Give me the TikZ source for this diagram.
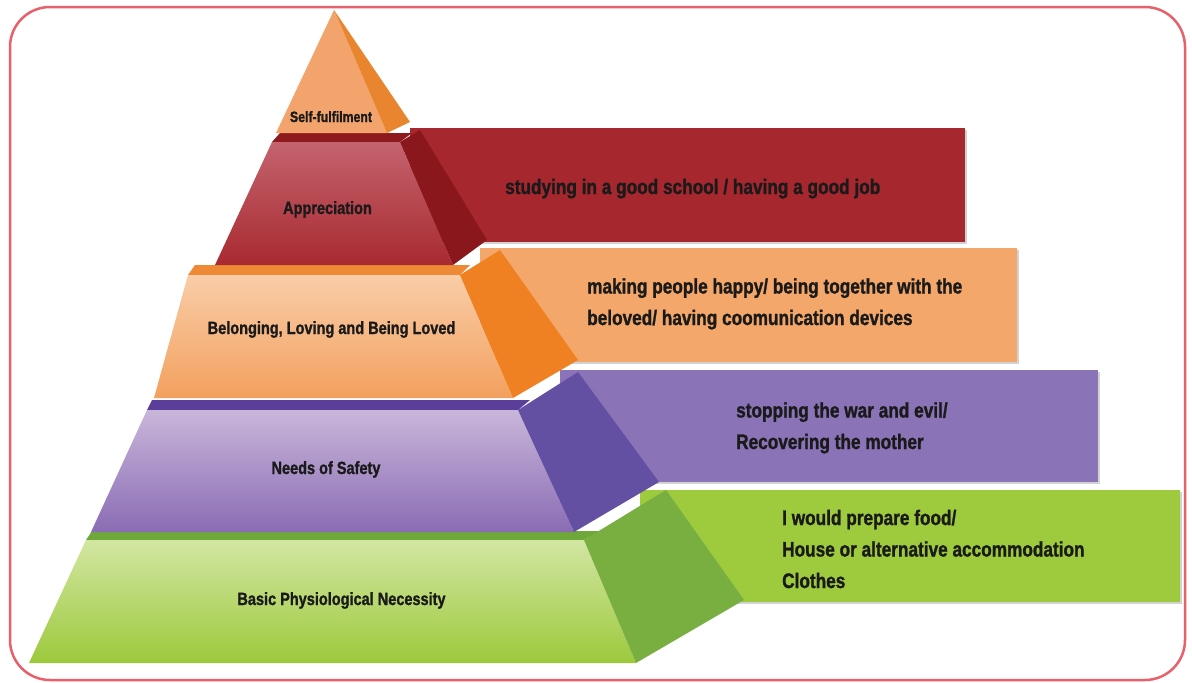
\documentclass[tikz,border=0pt]{standalone}
\usepackage{fontspec}
\setmainfont{Liberation Sans}[FakeStretch=0.82, BoldFeatures={FakeBold=1.2}]
\usetikzlibrary{shadows}
\definecolor{bordercol}{HTML}{E8606A}
\definecolor{txt}{HTML}{1A1A1A}
% top
\definecolor{topfront}{HTML}{F3A46C}
\definecolor{topside}{HTML}{E8852E}
% red
\definecolor{redA}{HTML}{C4636E}
\definecolor{redB}{HTML}{A82A30}
\definecolor{redstrip}{HTML}{8E1A1E}
\definecolor{redside}{HTML}{8A171B}
\definecolor{redrect}{HTML}{A6272E}
% orange
\definecolor{orA}{HTML}{F9CDA8}
\definecolor{orB}{HTML}{F3A05E}
\definecolor{orstrip}{HTML}{EE8A35}
\definecolor{orside}{HTML}{F08123}
\definecolor{orrect}{HTML}{F4A76A}
% purple
\definecolor{puA}{HTML}{C9B6DA}
\definecolor{puB}{HTML}{8A6CB4}
\definecolor{pustrip}{HTML}{5B3E99}
\definecolor{puside}{HTML}{6450A3}
\definecolor{purect}{HTML}{8B73B7}
% green
\definecolor{grA}{HTML}{D2E6A2}
\definecolor{grB}{HTML}{9DC93C}
\definecolor{grstrip}{HTML}{6FA83A}
\definecolor{grside}{HTML}{79AE41}
\definecolor{grrect}{HTML}{9DCB3D}
\begin{document}
\begin{tikzpicture}[x=1pt,y=-1pt,
  lbl/.style={font=\bfseries\fontsize{17.7}{20}\selectfont, text=txt, inner sep=0, anchor=base},
  desc/.style={font=\bfseries\fontsize{21}{31.5}\selectfont, text=txt, inner sep=0, align=left, anchor=base west},
  band/.style={drop shadow={opacity=0.35, shadow xshift=1.5pt, shadow yshift=-1.5pt}}]
\useasboundingbox (0,0) rectangle (1192,683);
\fill[white] (0,0) rectangle (1192,683);
% border
\draw[bordercol, line width=2.5pt, rounded corners=40pt] (10,7) rectangle (1185,680);

% bands behind
\fill[band, redrect] (410,128) rectangle (965,242);
\fill[band, orrect] (480,248) rectangle (1017,362);
\fill[band, purect] (560,370) rectangle (1098,482);
\fill[band, grrect] (640,490) rectangle (1180,602);

% green tier
\fill[grstrip] (86,540) -- (584,540) -- (600,531) -- (92,531) -- cycle;
\shade[top color=grA, bottom color=grB] (86,540) -- (584,540) -- (636,663) -- (29,663) -- cycle;
\fill[grside] (584,540) -- (666,490) -- (744,600) -- (636,663) -- cycle;

% purple tier
\fill[pustrip] (147,410) -- (518,410) -- (530,400) -- (152,400) -- cycle;
\shade[top color=puA, bottom color=puB] (147,410) -- (518,410) -- (574,532) -- (91,532) -- cycle;
\fill[puside] (518,410) -- (578,372) -- (659,482) -- (574,532) -- cycle;

% orange tier
\fill[orstrip] (188,275) -- (460,275) -- (470,265) -- (195,265) -- cycle;
\shade[top color=orA, bottom color=orB] (188,275) -- (460,275) -- (513,398) -- (154,398) -- cycle;
\fill[orside] (460,275) -- (500,250) -- (578,360) -- (513,398) -- cycle;

% red tier
\fill[redstrip] (272,142) -- (400,142) -- (412,133) -- (280,133) -- cycle;
\shade[top color=redA, bottom color=redB] (272,142) -- (400,142) -- (453,265) -- (215,265) -- cycle;
\fill[redside] (400,142) -- (420,130) -- (487,240) -- (453,265) -- cycle;

% top pyramid
\fill[topfront] (334,10) -- (387,133) -- (276,133) -- cycle;
\fill[topside] (334,10) -- (410,122) -- (387,133) -- cycle;

% labels
\node[lbl, font=\bfseries\fontsize{15}{18}\selectfont] (l1) at (331,122) {Self-fulfilment};
\node[lbl] (l2) at (327.5,214) {Appreciation};
\node[lbl] (l3) at (331.5,334) {Belonging, Loving and Being Loved};
\node[lbl] (l4) at (326,474) {Needs of Safety};
\node[lbl] (l5) at (341.5,605) {Basic Physiological Necessity};

% descriptions (base anchor = baseline of the last line)
\node[desc] (d1) at (505,194) {studying in a good school / having a good job};
\node[desc] (d2) at (587,325) {making people happy/ being together with the\\beloved/ having coomunication devices};
\node[desc] (d3) at (736,449) {stopping the war and evil/\\Recovering the mother};
\node[desc] (d4) at (782,588) {I would prepare food/\\House or alternative accommodation\\Clothes};
\end{tikzpicture}
\end{document}
